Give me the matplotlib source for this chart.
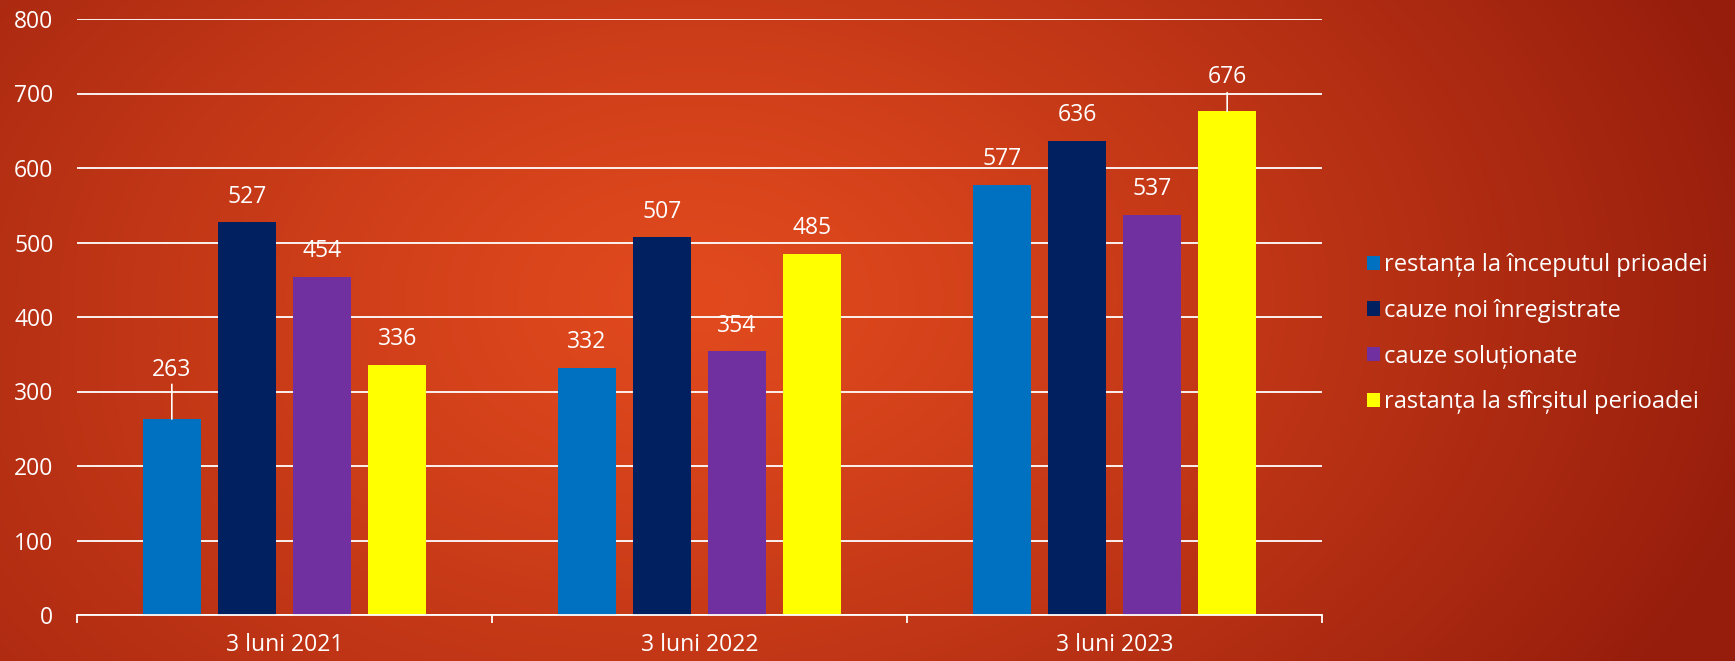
import numpy as np
import matplotlib
matplotlib.use("Agg")
import matplotlib.pyplot as plt
from matplotlib.patches import Patch

plt.rcParams['font.family'] = ['Open Sans', 'DejaVu Sans']

categories = ["3 luni 2021", "3 luni 2022", "3 luni 2023"]
series_names = ["restanța la începutul prioadei", "cauze noi înregistrate",
                "cauze soluționate", "rastanța la sfîrșitul perioadei"]
restanta_inceput = [263, 332, 577]
cauze_noi = [527, 507, 636]
cauze_solutionate = [454, 354, 537]
restanta_sfarsit = [336, 485, 676]
series_values = [restanta_inceput, cauze_noi, cauze_solutionate, restanta_sfarsit]
yticks = [0, 100, 200, 300, 400, 500, 600, 700, 800]

colors = ["#0070C0", "#002060", "#7030A0", "#FFFF00"]
# label offsets in points for leader-lined labels: (series, category) -> (offset, line end)
special_offsets = {(0, 0): (35, 25), (3, 2): (25, 13.5)}
default_offset = 18.5

W, H = 1735, 661
fig = plt.figure(figsize=(W / 100, H / 100), dpi=100)

# background gradient
bg = fig.add_axes([0, 0, 1, 1], zorder=-10)
yy, xx = np.mgrid[0:1:300j, 0:1:800j]
d = np.sqrt(((xx - 0.40) / 0.75) ** 2 + ((yy - 0.45) / 1.3) ** 2)
d = np.clip(d / 0.85, 0, 1) ** 1.2
c_center = np.array([226, 74, 30]) / 255
c_edge = np.array([150, 29, 12]) / 255
img = c_center[None, None, :] * (1 - d[..., None]) + c_edge[None, None, :] * d[..., None]
img = img + (np.clip(yy - 0.5, 0, 1) * np.clip(0.5 - xx, 0, 1) * 0.12)[..., None] * np.array([1.0, 0.5, 0.2])
img = np.clip(img, 0, 1)
bg.imshow(img, aspect='auto', extent=[0, 1, 1, 0])
bg.axis('off')

ax = fig.add_axes([77 / W, 1 - 615 / H, (1322 - 77) / W, (615 - 19) / H])
ax.patch.set_alpha(0)

fs = 16.5
x = np.arange(len(categories))
bw = 0.1413
step = 0.181
offsets = (np.arange(4) - 1.5) * step
for i, (vals, col) in enumerate(zip(series_values, colors)):
    bars = ax.bar(x + offsets[i], vals, width=bw, color=col, zorder=3)
    for j, (b, v) in enumerate(zip(bars, vals)):
        cx = b.get_x() + b.get_width() / 2
        off, line_end = special_offsets.get((i, j), (default_offset, None))
        ax.annotate(str(v), xy=(cx, v), xytext=(0, off), textcoords='offset points',
                    ha='center', va='center', color='white', fontsize=fs, zorder=5)
        if line_end is not None:
            ax.annotate("", xy=(cx, v), xytext=(0, line_end), textcoords='offset points',
                        arrowprops=dict(arrowstyle='-', color='white', lw=1.2,
                                        shrinkA=0, shrinkB=0), zorder=4)

ax.set_xlim(-0.5, 2.5)
ax.set_ylim(0, 800)
ax.set_yticks(yticks)
ax.set_yticklabels([str(t) for t in yticks])
ax.yaxis.grid(True, color='white', lw=1.3, zorder=1)
ax.set_axisbelow(True)
for s in ['left', 'right', 'top']:
    ax.spines[s].set_visible(False)
ax.spines['bottom'].set_color('white')
ax.spines['bottom'].set_linewidth(1.3)
ax.spines['bottom'].set_zorder(4)
ax.tick_params(axis='y', length=0, pad=17, labelcolor='white', labelsize=fs)
ax.set_xticks(x)
ax.set_xticklabels(categories)
ax.set_xticks([-0.5, 0.5, 1.5, 2.5], minor=True)
ax.tick_params(axis='x', which='major', length=0, pad=13, labelcolor='white', labelsize=fs)
ax.tick_params(axis='x', which='minor', length=6, width=1.3, color='white')

handles = [Patch(facecolor=c, edgecolor='none') for c in colors]
leg = fig.legend(handles, series_names, loc='center left',
                 bbox_to_anchor=(1367 / W, 0.495), frameon=False,
                 fontsize=17, handlelength=0.55, handleheight=0.55,
                 handletextpad=0.15, labelspacing=0.92, borderaxespad=0,
                 borderpad=0)
for t in leg.get_texts():
    t.set_color('white')

fig.savefig("out.png", dpi=100)
